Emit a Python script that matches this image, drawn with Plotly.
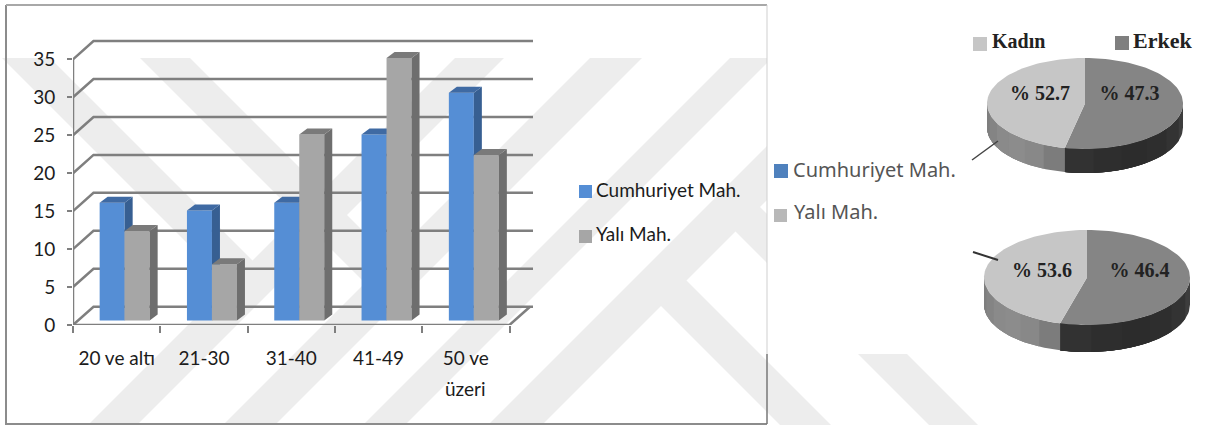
import math
import plotly.graph_objects as go

W, H = 1221, 425

# ---- data ----
categories = ["20 ve altı", "21-30", "31-40", "41-49", "50 ve üzeri"]
cumhuriyet = [15.5, 14.5, 15.5, 24.5, 30.0]
yali = [11.8, 7.4, 24.5, 34.6, 21.8]
y_ticks = [0, 5, 10, 15, 20, 25, 30, 35]
series_names = ["Cumhuriyet Mah.", "Yalı Mah."]
pie_labels = ["Kadın", "Erkek"]
kadin_pct = [52.7, 53.6]
erkek_pct = [47.3, 46.4]

# ---- layout parameters ----
PX_CAT, PX_VAL = 87.3, 7.59
AX_L, AX_B, AX_R, AX_T = 73, 325, 548, 30
X0 = -0.5
XMAX = X0 + (AX_R - AX_L) / PX_CAT
YMAX = (AX_B - AX_T) / PX_VAL
WALL_DX, WALL_DY = 20.5 / PX_CAT, 18.3 / PX_VAL
GRID_END = X0 + (533 - AX_L) / PX_CAT
BAR_W = 25 / PX_CAT
BAR_BASE = 4.5 / PX_VAL
BAR_DX, BAR_DY = 8 / PX_CAT, 6 / PX_VAL
OFF_A, OFF_B = -17 / PX_CAT, 8 / PX_CAT
C_GRID = "#7f7f7f"
C_TEXT = "#1c1c1c"
WM = "#ededed"
FONT = "Lato"

fig = go.Figure()


def poly(xs, ys, color, xa="x", ya="y"):
    fig.add_trace(go.Scatter(x=xs, y=ys, mode="lines", fill="toself", fillcolor=color,
                             line=dict(width=0, color=color), hoverinfo="skip",
                             showlegend=False, xaxis=xa, yaxis=ya))


def stroke(xs, ys, color, width, xa="x", ya="y", dash=None):
    fig.add_trace(go.Scatter(x=xs, y=ys, mode="lines", line=dict(color=color, width=width, dash=dash),
                             hoverinfo="skip", showlegend=False, xaxis=xa, yaxis=ya))


# ---- watermark in the page layer ----
for c0, c1 in [(513, 562), (648, 700), (788, 830), (913, 967)]:
    poly([c0 - 58, c1 - 58, c1 - 425, c0 - 425], [58, 58, 425, 425], WM)
for d0, d1, e in [(-56, -8, 538), (82, 132, 673)]:
    poly([d0 + 58, d1 + 58, (d1 + e) / 2, (d0 + e) / 2], [58, 58, (e - d1) / 2, (e - d0) / 2], WM)
for d0, d1, e in [(355, 406, 940), (504, 553, 940)]:
    poly([(d0 + e) / 2, (d1 + e) / 2, d1 + 425, d0 + 425], [(e - d0) / 2, (e - d1) / 2, 425, 425], WM)
poly([767, W, W, 767], [0, 0, 354, 354], "#ffffff")

# frame
stroke([6, 6, 767], [5, 424, 424], "#8c8c8c", 2)
stroke([6, 767], [5, 5], "#a8a8a8", 2)
stroke([767, 767], [5, 354], "#cfcfcf", 1)
stroke([767, 767], [354, 424], "#777777", 1.5)


# ---- pies ----
def arc(cx, cy, rx, ry, a0, a1, n=80):
    ts = [math.radians(a0 + (a1 - a0) * i / n) for i in range(n + 1)]
    return [cx + rx * math.sin(t) for t in ts], [cy - ry * math.cos(t) for t in ts]


def mix(stops, f):
    p = f * (len(stops) - 1)
    i = min(int(p), len(stops) - 2)
    g = stops[i] + (stops[i + 1] - stops[i]) * (p - i)
    return f"rgb({g:.0f},{g:.0f},{g:.0f})"


def side(cx, cy, rx, ry, dep, a0, a1, stops, n=6):
    # painted back to front, each slice reaching to the far end so no seams show
    for j in range(n):
        s0 = a0 + (a1 - a0) * j / n
        ax, ay = arc(cx, cy + dep, rx, ry, s0, a1, 40)
        bx, by = arc(cx, cy, rx, ry, a1, s0, 40)
        poly(ax + bx, ay + by, mix(stops, (j + 0.5) / n))


pie_geom = [(1085, 103.5, 98, 45.5, 24, 1.127), (1087, 277.5, 103, 47.5, 27, 1.168)]
label_pos = [((1040, 95), (1129.5, 95)), ((1042, 272), (1139.5, 272))]
for k, (cx, cy, rx, ry, dep, warp) in enumerate(pie_geom):
    split = 360 * erkek_pct[k] / 100 * warp
    side(cx, cy, rx, ry, dep, 90, split, [66, 46, 44, 52])
    side(cx, cy, rx, ry, dep, split, 270, [118, 142, 136, 122])
    ax, ay = arc(cx, cy, rx, ry, 0, split)
    poly([cx] + ax, [cy] + ay, "#858585")
    ax, ay = arc(cx, cy, rx, ry, split, 360)
    poly([cx] + ax, [cy] + ay, "#c6c6c6")
    fig.add_trace(go.Scatter(
        x=[p[0] for p in label_pos[k]], y=[p[1] for p in label_pos[k]], mode="text",
        text=[f"% {kadin_pct[k]}", f"% {erkek_pct[k]}"],
        textfont=dict(family="Liberation Serif", size=20, color="#222222", weight="bold"),
        hoverinfo="skip", showlegend=False))

stroke([972, 998], [160, 141], "#444444", 1.5)
stroke([973, 998], [252, 260], "#333333", 2)


def sq(x, y, s, color):
    poly([x, x + s, x + s, x], [y, y, y + s, y + s], color)


sq(973, 37, 14, "#c6c6c6")
sq(1115, 36, 14, "#7f7f7f")
sq(774, 164, 14, "#4f81bd")
sq(774, 209, 13, "#b8b8b8")
fig.add_trace(go.Scatter(x=[992, 1133], y=[43, 42], mode="text", text=pie_labels, textposition="middle right",
                         textfont=dict(family="Liberation Serif", size=[20, 22], color="#222222", weight="bold"),
                         hoverinfo="skip", showlegend=False))
fig.add_trace(go.Scatter(x=[793, 794], y=[172, 214], mode="text", text=series_names, textposition="middle right",
                         textfont=dict(family="Noto Sans", size=20, color="#555555"),
                         hoverinfo="skip", showlegend=False))

# chart legend, drawn in the page layer
sq(579, 185, 13, "#558ed5")
sq(579, 230, 13, "#a6a6a6")
fig.add_trace(go.Scatter(x=[596, 596], y=[192, 236], mode="text", text=series_names, textposition="middle right",
                         textfont=dict(family=FONT, size=19, color=C_TEXT),
                         hoverinfo="skip", showlegend=False))

# ---- chart grid and axis lines ----
for v in y_ticks:
    stroke([X0, X0 + WALL_DX, GRID_END], [v, v + WALL_DY, v + WALL_DY], C_GRID, 2.5, "x2", "y2")
stroke([X0, X0], [y_ticks[0], y_ticks[-1]], C_GRID, 2.5, "x2", "y2")
stroke([X0, len(categories) + X0, len(categories) + X0 + WALL_DX],
       [0, 0, WALL_DY], C_GRID, 2.5, "x2", "y2")


# ---- 3D bars ----
def series(values, name, off, c_front, c_side, c_top, xa, ya):
    idx = list(range(len(values)))
    sx, sy, tx, ty = [], [], [], []
    for i, v in zip(idx, values):
        l, r, top = i + off, i + off + BAR_W, BAR_BASE + v
        sx += [r, r + BAR_DX, r + BAR_DX, r, None]
        sy += [BAR_BASE, BAR_BASE + BAR_DY, top + BAR_DY, top, None]
        tx += [l, l + BAR_DX, r + BAR_DX, r, None]
        ty += [top, top + BAR_DY, top + BAR_DY, top, None]
    poly(sx, sy, c_side, xa, ya)
    poly(tx, ty, c_top, xa, ya)
    fig.add_trace(go.Bar(x=idx, y=values, base=BAR_BASE, width=BAR_W, offset=off, name=name,
                         marker=dict(color=c_front, line=dict(width=0)), hoverinfo="skip",
                         xaxis=xa, yaxis=ya, showlegend=False))


series(cumhuriyet, series_names[0], OFF_A, "#558ed5", "#375f92", "#3f6aa3", "x3", "y3")
series(yali, series_names[1], OFF_B, "#a6a6a6", "#6e6e6e", "#7a7a7a", "x4", "y4")

first_lines = [c.replace(" üzeri", "") for c in categories]
fig.add_annotation(x=4, xref="x2", y=(H - 388) / H, yref="paper", yanchor="middle", text="üzeri", showarrow=False,
                   font=dict(family=FONT, size=19, color=C_TEXT))

hidden = dict(visible=False, fixedrange=True)
fig.update_layout(
    width=W, height=H, autosize=False, margin=dict(l=0, r=0, t=0, b=0, autoexpand=False),
    paper_bgcolor="#ffffff", plot_bgcolor="rgba(0,0,0,0)", barmode="overlay", showlegend=False,
    font=dict(family=FONT, color=C_TEXT),
    xaxis=dict(hidden, range=[0, W], domain=[0, 1]),
    yaxis=dict(hidden, range=[H, 0], domain=[0, 1]),
    xaxis2=dict(domain=[AX_L / W, AX_R / W], range=[X0, XMAX], anchor="y2", showgrid=False, zeroline=False,
                showline=False, fixedrange=True, tickmode="array", tickvals=list(range(len(categories))),
                ticktext=first_lines, ticks="", ticklabelstandoff=20,
                tickfont=dict(family=FONT, size=19, color=C_TEXT),
                minor=dict(ticks="outside", ticklen=7, tickwidth=2, tickcolor=C_GRID, tick0=X0, dtick=1, showgrid=False)),
    yaxis2=dict(domain=[(H - AX_B) / H, (H - AX_T) / H], range=[0, YMAX], anchor="x2", showgrid=False,
                zeroline=False, showline=False, fixedrange=True, tickmode="array", tickvals=y_ticks,
                ticks="outside", ticklen=5, tickwidth=2, tickcolor=C_GRID, ticklabelstandoff=8,
                tickfont=dict(family=FONT, size=19, color=C_TEXT)),
    xaxis3=dict(hidden, overlaying="x2", range=[X0, XMAX], anchor="y3"),
    yaxis3=dict(hidden, overlaying="y2", range=[0, YMAX], anchor="x3"),
    xaxis4=dict(hidden, overlaying="x2", range=[X0, XMAX], anchor="y4"),
    yaxis4=dict(hidden, overlaying="y2", range=[0, YMAX], anchor="x4"),
)

fig.write_html("out.html", config={"displayModeBar": False},
               post_script="document.body.style.margin='0';document.body.style.overflow='hidden';")
